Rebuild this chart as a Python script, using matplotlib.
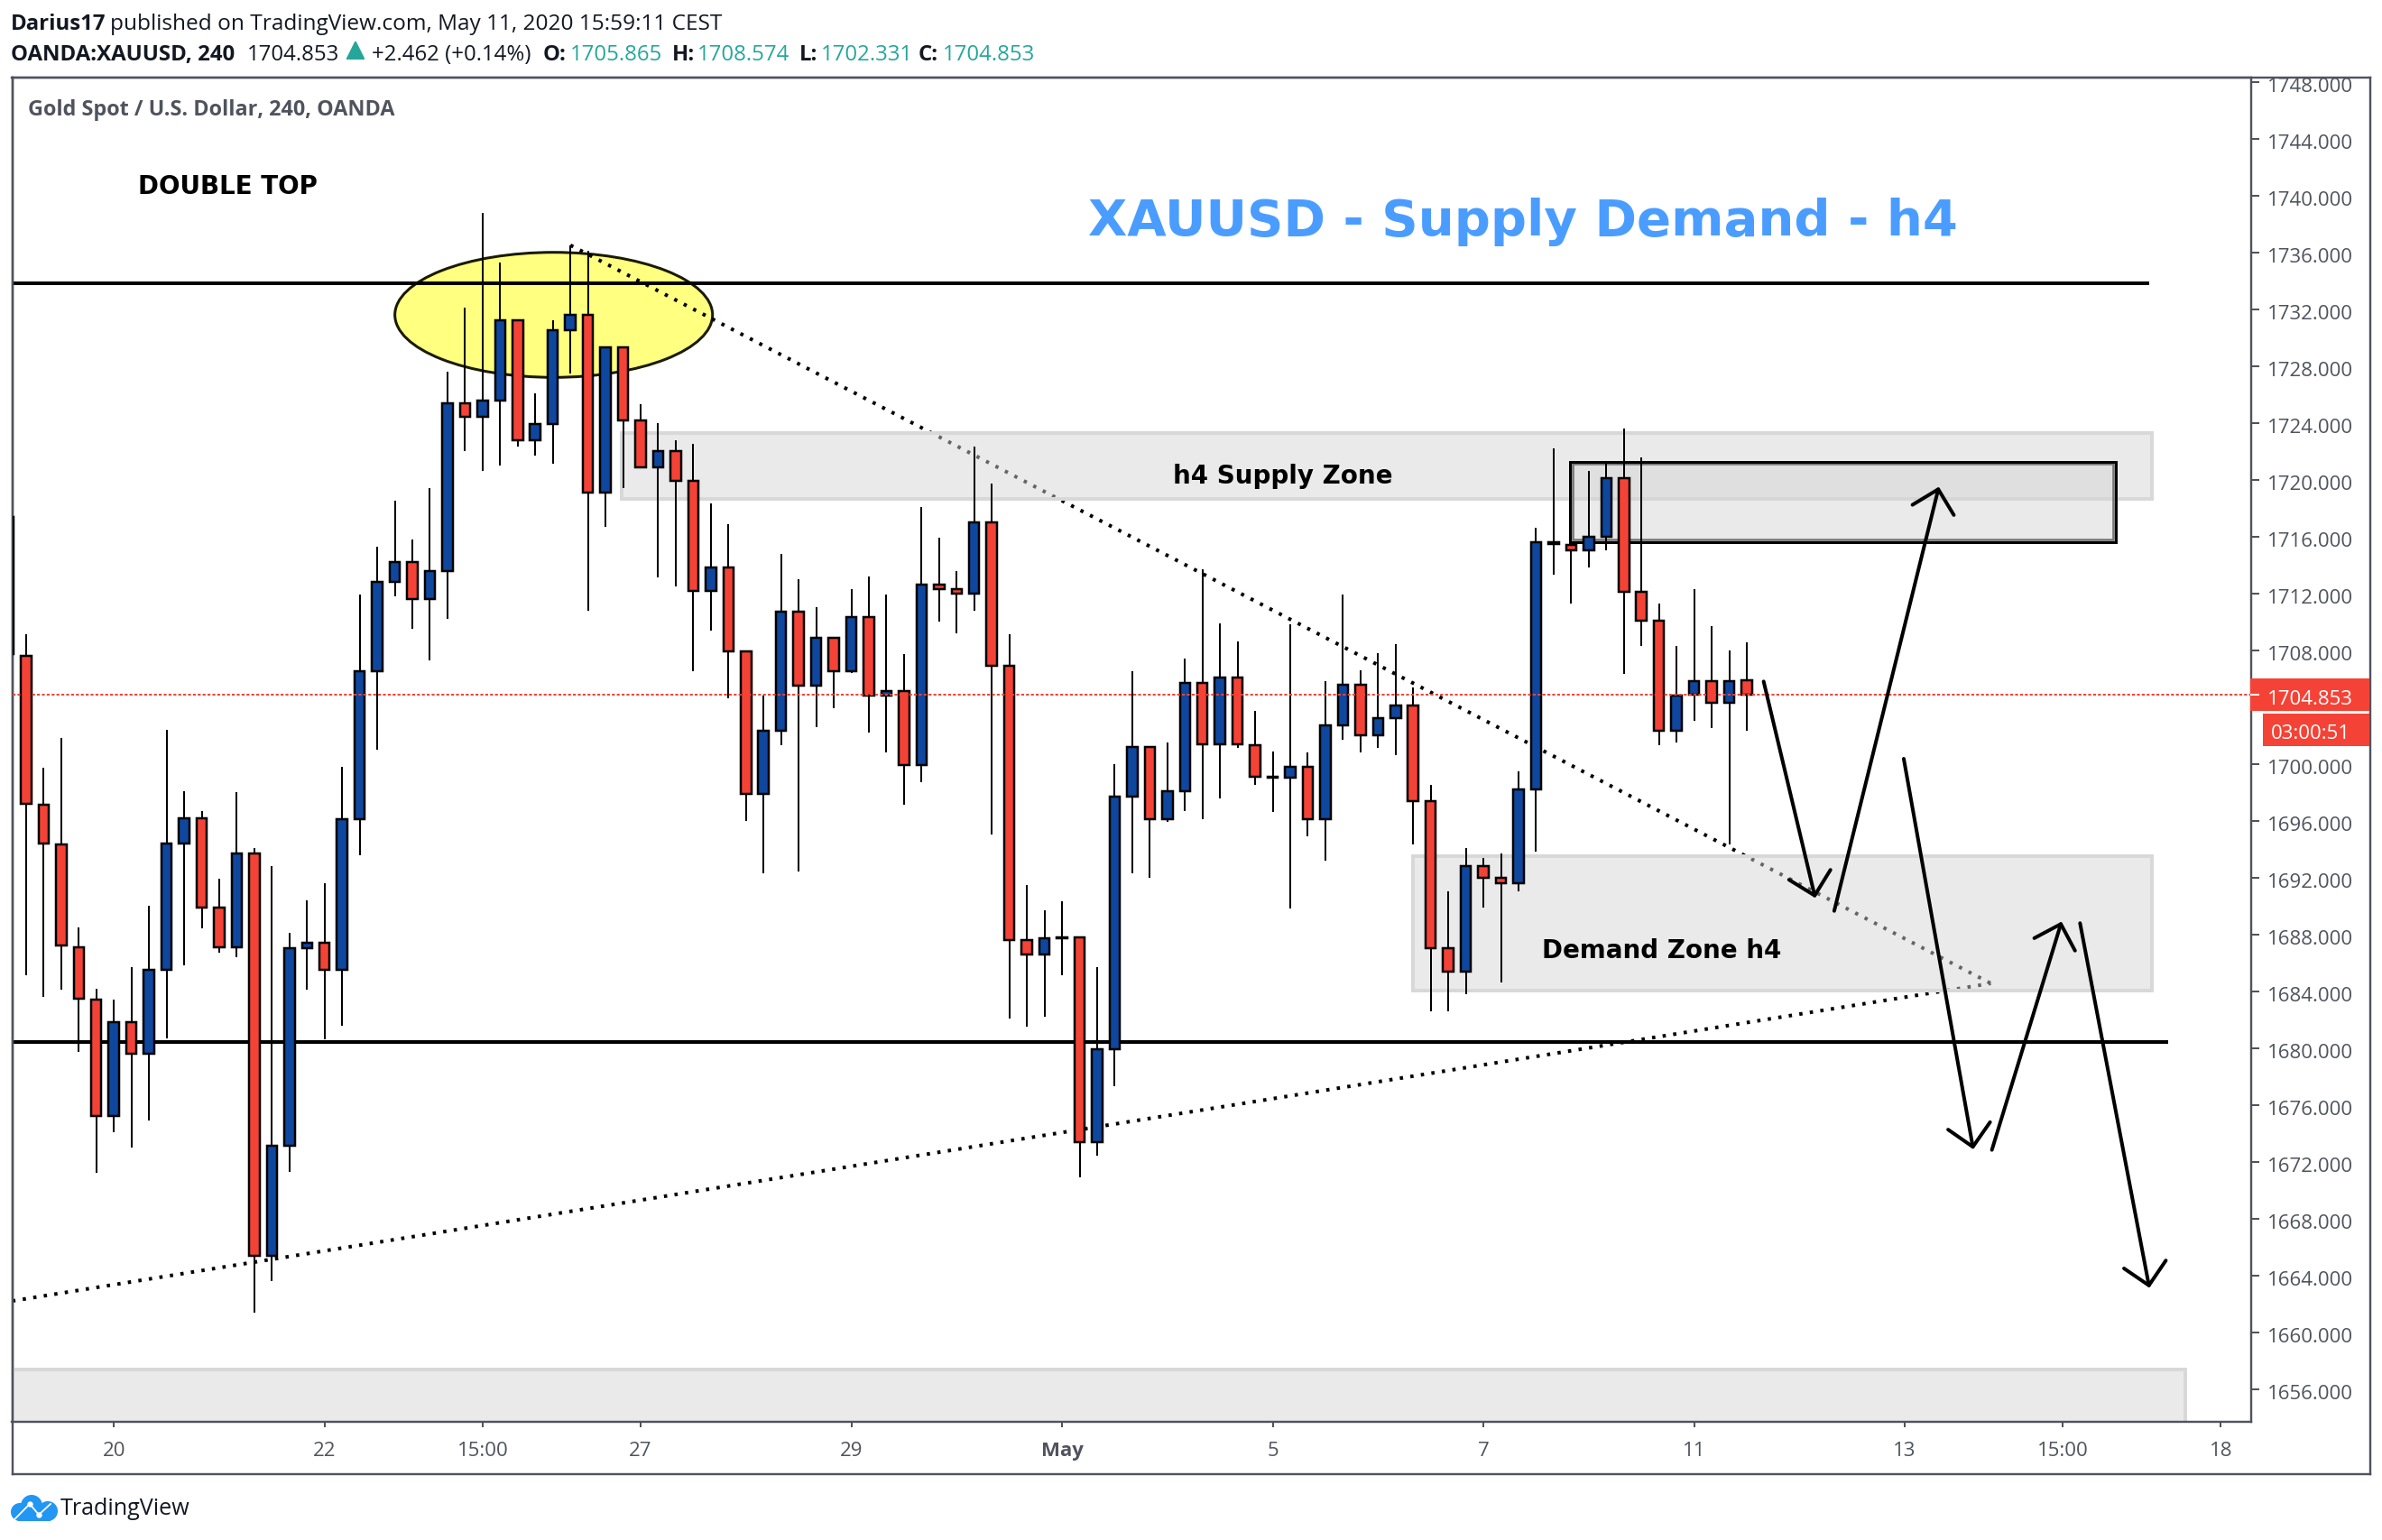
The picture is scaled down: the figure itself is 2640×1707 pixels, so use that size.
import numpy as np
import matplotlib
matplotlib.use("Agg")
import matplotlib.pyplot as plt
from matplotlib.patches import Rectangle, Ellipse, Circle
from matplotlib.transforms import blended_transform_factory, ScaledTranslation

W, H = 2640, 1708
DPI = 100
PT = 72 / DPI  # points per pixel

# ---------------------- data ----------------------
first_bar = -1
opens = [1717.4, 1707.6, 1697.1, 1694.3, 1687.1, 1683.4, 1675.2, 1681.8, 1679.6, 1685.5,
         1694.4, 1696.2, 1689.9, 1687.1, 1693.7, 1665.4, 1673.1, 1687.0, 1687.4, 1685.5,
         1696.1, 1706.5, 1712.8, 1714.2, 1711.6, 1713.6, 1725.4, 1724.4, 1725.6, 1731.2,
         1722.8, 1723.9, 1730.5, 1731.6, 1719.1, 1729.3, 1724.2, 1720.9, 1722.0, 1719.9,
         1712.2, 1713.8, 1707.9, 1697.9, 1702.3, 1710.7, 1705.5, 1708.9, 1706.5, 1710.3,
         1704.8, 1705.1, 1699.9, 1712.6, 1712.3, 1712.0, 1717.0, 1706.9, 1687.6, 1686.6,
         1687.8, 1687.8, 1673.4, 1679.9, 1697.7, 1701.2, 1696.1, 1698.1, 1705.7, 1701.4,
         1706.1, 1701.3, 1699.1, 1699.0, 1699.8, 1696.1, 1702.7, 1705.6, 1702.0, 1703.2,
         1704.1, 1697.4, 1687.0, 1685.4, 1692.8, 1692.0, 1691.6, 1698.2, 1715.6, 1715.4,
         1715.0, 1716.0, 1720.1, 1712.1, 1710.1, 1702.3, 1704.9, 1705.8, 1704.3, 1705.865]
highs = [1717.4, 1709.1, 1699.7, 1701.8, 1688.5, 1684.2, 1683.4, 1685.7, 1690.0, 1702.4,
         1698.1, 1696.7, 1691.9, 1698.0, 1694.1, 1692.8, 1688.1, 1690.4, 1691.6, 1699.8,
         1711.9, 1715.3, 1718.5, 1715.8, 1719.4, 1727.6, 1732.1, 1738.8, 1735.3, 1731.2,
         1726.1, 1731.2, 1736.5, 1736.1, 1729.4, 1729.3, 1725.3, 1724.0, 1722.8, 1722.5,
         1718.3, 1716.9, 1708.0, 1704.8, 1714.8, 1713.0, 1711.0, 1708.9, 1712.3, 1713.2,
         1711.9, 1707.7, 1718.1, 1715.9, 1713.6, 1722.3, 1719.7, 1709.1, 1691.5, 1689.7,
         1690.3, 1687.8, 1685.7, 1700.0, 1706.5, 1701.2, 1701.5, 1707.4, 1713.7, 1709.9,
         1708.6, 1703.7, 1700.9, 1709.8, 1700.8, 1705.8, 1711.9, 1706.6, 1707.8, 1708.4,
         1705.4, 1698.5, 1691.0, 1694.1, 1693.4, 1693.7, 1699.5, 1716.6, 1722.2, 1716.6,
         1720.6, 1721.3, 1723.6, 1721.6, 1711.3, 1708.3, 1712.3, 1709.7, 1708.0, 1708.574]
lows = [1707.7, 1685.1, 1683.6, 1684.1, 1679.7, 1671.2, 1674.1, 1673.0, 1674.9, 1680.7,
        1685.8, 1688.4, 1686.7, 1686.4, 1661.4, 1663.6, 1671.3, 1684.1, 1680.6, 1681.6,
        1693.6, 1701.0, 1711.8, 1709.5, 1707.3, 1710.2, 1722.0, 1720.6, 1721.0, 1722.3,
        1721.7, 1721.1, 1727.5, 1710.8, 1716.7, 1719.4, 1720.8, 1713.1, 1712.5, 1706.5,
        1709.4, 1704.6, 1696.0, 1692.3, 1701.3, 1692.4, 1702.6, 1703.9, 1706.4, 1702.2,
        1700.8, 1697.1, 1698.7, 1710.0, 1709.2, 1710.8, 1695.0, 1682.1, 1681.5, 1682.2,
        1685.1, 1670.9, 1672.4, 1677.3, 1692.3, 1692.0, 1695.9, 1696.7, 1696.1, 1697.6,
        1701.1, 1698.5, 1696.6, 1689.8, 1694.9, 1693.2, 1701.7, 1700.8, 1701.1, 1700.6,
        1694.3, 1682.6, 1682.6, 1683.8, 1689.9, 1684.6, 1691.0, 1693.8, 1713.3, 1711.3,
        1713.8, 1715.0, 1706.3, 1708.3, 1701.3, 1701.5, 1703.0, 1702.5, 1694.3, 1702.331]
closes = [1707.7, 1697.2, 1694.4, 1687.2, 1683.5, 1675.2, 1681.8, 1679.6, 1685.5, 1694.4,
          1696.2, 1689.9, 1687.1, 1693.7, 1665.4, 1673.1, 1687.0, 1687.4, 1685.5, 1696.1,
          1706.5, 1712.8, 1714.2, 1711.6, 1713.6, 1725.4, 1724.4, 1725.6, 1731.2, 1722.8,
          1723.9, 1730.5, 1731.6, 1719.1, 1729.3, 1724.2, 1720.9, 1722.0, 1719.9, 1712.2,
          1713.8, 1707.9, 1697.9, 1702.3, 1710.7, 1705.5, 1708.9, 1706.5, 1710.3, 1704.8,
          1705.1, 1699.9, 1712.6, 1712.3, 1712.0, 1717.0, 1706.9, 1687.6, 1686.6, 1687.7,
          1687.7, 1673.4, 1679.9, 1697.7, 1701.2, 1696.1, 1698.1, 1705.7, 1701.4, 1706.1,
          1701.4, 1699.1, 1699.0, 1699.8, 1696.1, 1702.7, 1705.6, 1702.0, 1703.2, 1704.1,
          1697.4, 1687.0, 1685.4, 1692.8, 1692.0, 1691.6, 1698.2, 1715.6, 1715.5, 1715.0,
          1716.0, 1720.1, 1712.1, 1710.1, 1702.3, 1704.8, 1705.8, 1704.3, 1705.8, 1704.853]

price_ticks = list(range(1656, 1749, 4))
time_tick_pos = [5, 17, 26, 35, 47, 59, 71, 83, 95, 107, 116, 125]
time_tick_lab = ["20", "22", "15:00", "27", "29", "May", "5", "7", "11", "13", "15:00", "18"]

level_prices = [1733.8, 1680.45]
level_ends = [120.9, 122.0]
trend_down_x = [31.0, 111.9]
trend_down_y = [1736.5, 1684.55]
trend_up_x = [-0.79, 111.9]
trend_up_y = [1662.2, 1684.55]
# zones: x0, x1, price low, price high
supply_zone = [33.92, 121.05, 1718.65, 1723.3]
demand_zone = [78.99, 121.05, 1684.07, 1693.5]
lower_zone = [-3.0, 122.98, 1650.0, 1657.4]
box_outer = [87.93, 119.0, 1715.61, 1721.28]
box_inner = [88.07, 118.87, 1715.78, 1721.11]
ellipse_xy = [30.05, 1731.6]
ellipse_size = [18.09, 8.8]
arrow_start_x = [98.96, 102.98, 106.94, 111.96, 116.98]
arrow_start_y = [1705.8, 1689.65, 1700.36, 1672.83, 1688.79]
arrow_tip_x = [101.9, 108.94, 110.9, 115.93, 120.93]
arrow_tip_y = [1690.56, 1719.5, 1672.87, 1688.9, 1663.12]

last_price = closes[-1]
countdown = "03:00:51"

# ---------------------- colours ----------------------
UP = "#0F479F"
DOWN = "#F44336"
AXC = "#50535E"
INK = "#131722"
TEAL = "#26A69A"
ZONE_FILL = (213 / 255, 213 / 255, 213 / 255, 0.48)
ZONE_EDGE = "#D8D8D8"

# ---------------------- layout ----------------------
L, R, T, B = 13.5, 2495.0, 86.7, 1576.7
OUT_R, OUT_B = 2627.0, 1634.7
BAR0, BAR_STEP = 28.9, 19.46
PX0, PY0, PPU = 1708.0, 721.7, 15.75


def to_frac(x, y):
    return x / W, 1 - y / H


plt.rcParams["font.family"] = ["Open Sans", "DejaVu Sans"]
fig = plt.figure(figsize=(W / DPI, H / DPI), dpi=DPI, facecolor="white")

frame = fig.add_axes([L / W, 1 - OUT_B / H, (OUT_R - L) / W, (OUT_B - T) / H], zorder=0)
frame.set_xticks([])
frame.set_yticks([])
for s in frame.spines.values():
    s.set_color(AXC)
    s.set_linewidth(2.4 * PT)

ax = fig.add_axes([L / W, 1 - B / H, (R - L) / W, (B - T) / H], zorder=1)
ax.patch.set_alpha(0)
ax.set_xlim((L - BAR0) / BAR_STEP, (R - BAR0) / BAR_STEP)
ax.set_ylim(PX0 - (B - PY0) / PPU, PX0 - (T - PY0) / PPU)
for s in ax.spines.values():
    s.set_color(AXC)
    s.set_linewidth(2.4 * PT)

ax.yaxis.tick_right()
ax.set_yticks(price_ticks)
# the 1704 label sits hidden behind the last-price tag
ax.set_yticklabels(["" if p == 1704 else f"{p:.3f}" for p in price_ticks], fontsize=16, color=AXC)
ax.tick_params(axis="y", length=9 * PT, width=2 * PT, color=AXC, pad=8.5 * PT)
label_shift = ScaledTranslation(0, -2 / DPI, fig.dpi_scale_trans)
for tick in ax.yaxis.get_major_ticks():
    tick.label2.set_transform(tick.label2.get_transform() + label_shift)
ax.set_xticks(time_tick_pos)
ax.set_xticklabels(time_tick_lab, fontsize=16, color=AXC)
ax.tick_params(axis="x", length=6 * PT, width=2 * PT, color=AXC, pad=15 * PT)
for lab, txt in zip(ax.get_xticklabels(), time_tick_lab):
    if txt == "May":
        lab.set_fontweight("bold")

# ellipse below everything else
ax.add_patch(Ellipse(ellipse_xy, ellipse_size[0], ellipse_size[1], facecolor="#FFFF80",
                     edgecolor="#1A1A00", lw=3 * PT, zorder=1.0))

# horizontal levels
for p, e in zip(level_prices, level_ends):
    ax.plot([ax.get_xlim()[0], e], [p, p], color="black", lw=4 * PT, zorder=1.2,
            solid_capstyle="butt")

# dotted trend lines
dot = (0, (0.9, 2.05))
for xs, ys in ((trend_down_x, trend_down_y), (trend_up_x, trend_up_y)):
    ax.plot(xs, ys, color="black", lw=4 * PT, linestyle=dot, zorder=1.3,
            dash_capstyle="butt")

# zones
for z in (supply_zone, demand_zone, lower_zone):
    ax.add_patch(Rectangle((z[0], z[2]), z[1] - z[0], z[3] - z[2], facecolor=ZONE_FILL,
                           edgecolor=ZONE_EDGE, lw=4 * PT, zorder=1.5))
# the outlined box
ax.add_patch(Rectangle((box_outer[0], box_outer[2]), box_outer[1] - box_outer[0],
                       box_outer[3] - box_outer[2], facecolor=ZONE_FILL,
                       edgecolor="none", zorder=1.6))
ax.add_patch(Rectangle((box_inner[0], box_inner[2]), box_inner[1] - box_inner[0],
                       box_inner[3] - box_inner[2], fill=False,
                       edgecolor="#777777", lw=2.6 * PT, zorder=1.7))
ax.add_patch(Rectangle((box_outer[0], box_outer[2]), box_outer[1] - box_outer[0],
                       box_outer[3] - box_outer[2], fill=False,
                       edgecolor="black", lw=3 * PT, zorder=1.8))

# candles
xs = np.arange(first_bar, first_bar + len(opens))
o, h, l, c = map(np.asarray, (opens, highs, lows, closes))
up = c > o
ax.vlines(xs, l, h, color="black", lw=2 * PT, zorder=3)
ax.bar(xs, np.abs(c - o), bottom=np.minimum(o, c), width=0.59,
       color=[UP if u else DOWN for u in up], edgecolor="black", linewidth=2.5 * PT, zorder=3.1)

# last price line
ax.axhline(last_price, color=DOWN, lw=2 * PT, linestyle=(0, (1.6, 1.1)), zorder=4)

# arrows
for sx, sy, tx, ty in zip(arrow_start_x, arrow_start_y, arrow_tip_x, arrow_tip_y):
    ax.annotate("", xy=(tx, ty), xytext=(sx, sy), zorder=5,
                arrowprops=dict(arrowstyle="->,head_length=1.7,head_width=1.7", mutation_scale=10,
                                lw=4 * PT, color="black", shrinkA=0, shrinkB=0))

# price labels on the scale
trans = blended_transform_factory(ax.transAxes, ax.transData)
ax_w = R - L
box_h = 17.85 / PPU
x_end = (2626 - L) / ax_w
x_a = (2494 - L) / ax_w
x_b = (2508 - L) / ax_w
ax.add_patch(Rectangle((x_a, last_price - box_h), x_end - x_a, 2 * box_h, transform=trans,
                       facecolor=DOWN, edgecolor="none", clip_on=False, zorder=10))
c2 = last_price - 2.45
ax.add_patch(Rectangle((x_b, c2 - box_h), x_end - x_b, 2 * box_h, transform=trans,
                       facecolor=DOWN, edgecolor="none", clip_on=False, zorder=10))
ax.plot([1.0, 1.0 + 8 / ax_w], [last_price, last_price], transform=trans, color="white",
        lw=2 * PT, clip_on=False, zorder=11)
ax.text((2512.7 - L) / ax_w, last_price - 0.1, f"{last_price:.3f}", transform=trans, color="white",
        fontsize=16, va="center_baseline", ha="left", zorder=12, clip_on=False)
ax.text((2516.5 - L) / ax_w, c2 - 0.1, countdown, transform=trans, color="white",
        fontsize=16, va="center_baseline", ha="left", zorder=12, clip_on=False)


# ---------------------- texts ----------------------
def put(x, y, s, size, color=INK, weight="normal", family=None, ha="left"):
    fx, fy = to_frac(x, y)
    kw = {"family": family} if family else {}
    return fig.text(fx, fy, s, fontsize=size, color=color, fontweight=weight, ha=ha,
                    va="baseline", zorder=5, **kw)


HS = 17.3
put(12.3, 32.7, "Darius17", HS, weight="bold")
put(122, 32.7, "published on TradingView.com, May 11, 2020 15:59:11 CEST", 17.55)
put(12.3, 66.7, "OANDA:XAUUSD, 240", HS, weight="bold")
put(273.8, 66.7, "1704.853", HS)
put(412.5, 66.7, "+2.462 (+0.14%)", HS)
put(602, 66.7, "O:", HS, weight="bold")
put(632, 66.7, "1705.865", HS, color=TEAL)
put(745, 66.7, "H:", HS, weight="bold")
put(773, 66.7, "1708.574", HS, color=TEAL)
put(886, 66.7, "L:", HS, weight="bold")
put(910, 66.7, "1702.331", HS, color=TEAL)
put(1018, 66.7, "C:", HS, weight="bold")
put(1045, 66.7, "1704.853", HS, color=TEAL)
tri = fig.add_axes([384 / W, 1 - 67 / H, 20 / W, 20 / H], zorder=2)
tri.axis("off")
tri.fill([0, 0.5, 1], [0, 1, 0], color=TEAL)
tri.set_xlim(0, 1)
tri.set_ylim(0, 1)

put(31, 128, "Gold Spot / U.S. Dollar, 240, OANDA", 16.8, color=AXC, weight="bold")

put(152.6, 215, "DOUBLE TOP", 20.0, color="black", weight="bold", family="DejaVu Sans")
put(1206, 261, "XAUUSD - Supply Demand - h4", 40.4, color="#4A9DFF", weight="bold", family="DejaVu Sans")
put(1300.5, 536, "h4 Supply Zone", 19.95, color="black", weight="bold", family="DejaVu Sans")
put(1709, 1061.7, "Demand Zone h4", 20.0, color="black", weight="bold", family="DejaVu Sans")
put(67, 1679, "TradingView", 18.1, color=INK)

# logo
logo = fig.add_axes([12 / W, 1 - 1687 / H, 52 / W, 30 / H], zorder=2)
logo.axis("off")
logo.set_xlim(12, 64)
logo.set_ylim(1687, 1657)
for cx, cy, r in ((35, 1670, 12), (22, 1677, 10), (53, 1676, 11)):
    logo.add_patch(Circle((cx, cy), r, color="#2196F3", lw=0, clip_on=True))
logo.add_patch(Rectangle((20, 1676), 36, 11, color="#2196F3", lw=0))
logo.plot([15.3, 33, 43, 56], [1686, 1668, 1680, 1668], color="white", lw=1.8 * PT)
logo.plot([33, 43], [1668, 1680], "o", color="white", ms=5 * PT)

fig.savefig("out.png", dpi=DPI, facecolor="white")
